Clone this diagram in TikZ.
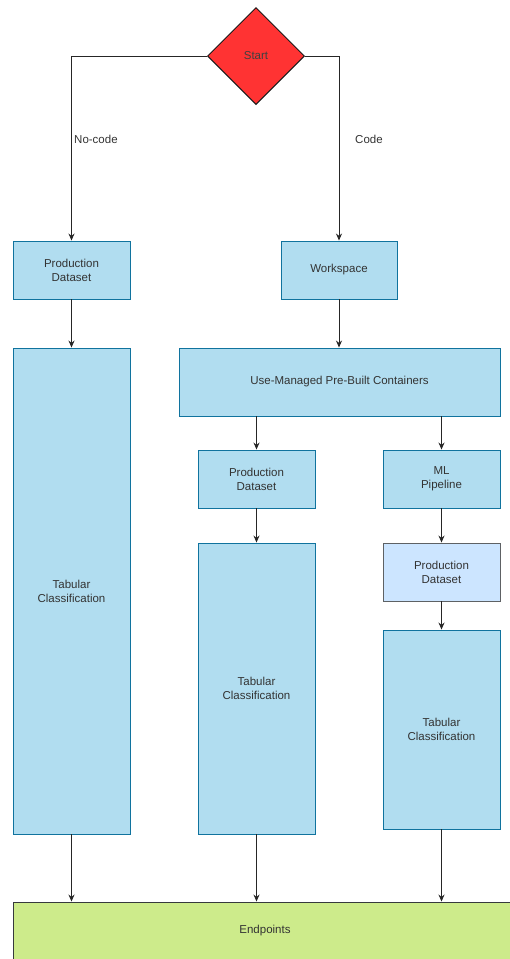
\documentclass[tikz,border=0pt]{standalone}
\usepackage{fontspec}
\setmainfont{Liberation Sans}
\usepackage{tikz}
\usetikzlibrary{shapes.geometric, arrows.meta, calc}
\usepackage{xcolor}

\definecolor{boxfill}{HTML}{B1DDF0}
\definecolor{boxline}{HTML}{10739E}
\definecolor{startfill}{HTML}{FF3333}
\definecolor{endfill}{HTML}{CDEB8B}
\definecolor{darkline}{HTML}{36393D}
\definecolor{lightfill}{HTML}{CCE5FF}

\begin{document}
\begin{tikzpicture}[x=1pt, y=-1pt,
        font=\fontsize{11.5}{14}\selectfont,
        box/.style={draw=boxline, fill=boxfill, line width=0.9pt, align=center,
            inner sep=0pt, text=black!80},
        arr/.style={-{Stealth[length=7pt,width=6pt]}, line width=0.9pt, black!85},
        label/.style={text=black!80, inner sep=0pt}]
        \useasboundingbox (0,0) rectangle (509,959);

        % decision at the top
        \node[diamond, draw=black!90, fill=startfill, line width=1pt, inner sep=0pt,
            minimum width=97pt, minimum height=97pt, text=black!75] (start) at (256,56) {Start};

        % no-code branch
        \node[box, minimum width=117pt, minimum height=58pt] (pdleft) at (71.5,270) {Production\\Dataset};
        \node[box, minimum width=117pt, minimum height=486pt] (tableft) at (71.5,591) {Tabular\\Classification};

        % code branch
        \node[box, minimum width=116pt, minimum height=58pt] (work) at (339,270) {Workspace};
        \node[box, minimum width=321pt, minimum height=68pt] (contain) at (339.5,382) {Use-Managed Pre-Built Containers};
        \node[box, minimum width=117pt, minimum height=58pt] (pdmid) at (256.5,479) {Production\\Dataset};
        \node[box, minimum width=117pt, minimum height=291pt] (tabmid) at (256.5,688.5) {Tabular\\Classification};
        \node[box, minimum width=117pt, minimum height=58pt] (pipe) at (441.5,479) {ML\\Pipeline};
        \node[box, draw=darkline!80, fill=lightfill, minimum width=117pt, minimum height=58pt] (pdright) at (441.5,572) {Production\\Dataset};
        \node[box, minimum width=117pt, minimum height=199pt] (tabright) at (441.5,729.5) {Tabular\\Classification};

        % all paths end here
        \node[draw=darkline, fill=endfill, line width=0.9pt, inner sep=0pt, text=black!80,
            minimum width=504pt, minimum height=58pt] (endp) at (265,931) {Endpoints};

        % connectors
        \draw[arr] (start.west) -| (pdleft.north);
        \draw[arr] (start.east) -| (work.north);
        \node[label, anchor=west] (nocode) at (74,139) {No-code};
        \node[label, anchor=west] (code) at (355,139) {Code};

        \draw[arr] (pdleft) -- (tableft);
        \draw[arr] (work) -- (work |- contain.north);
        \draw[arr] (contain.south -| pdmid) -- (pdmid);
        \draw[arr] (contain.south -| pipe) -- (pipe);
        \draw[arr] (pdmid) -- (tabmid);
        \draw[arr] (pipe) -- (pdright);
        \draw[arr] (pdright) -- (tabright);

        \foreach \t in {tableft, tabmid, tabright} {
            \draw[arr] (\t) -- (\t |- endp.north);
        }
    \end{tikzpicture}
\end{document}
